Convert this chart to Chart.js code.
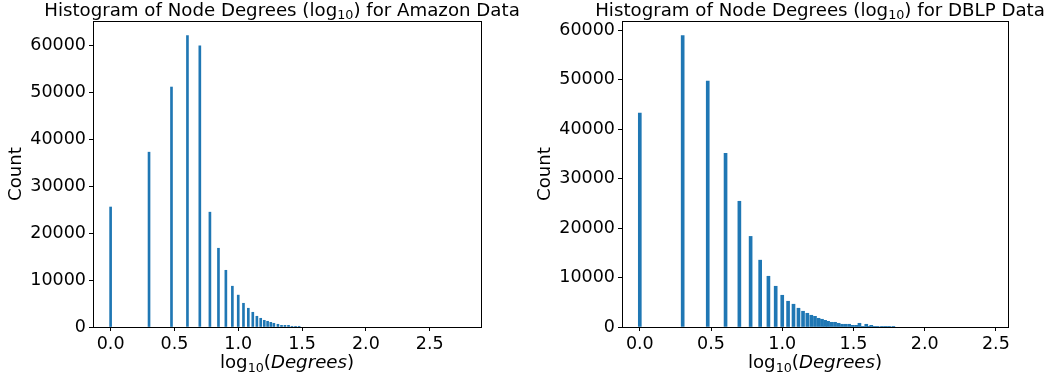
<!DOCTYPE html>
<html lang="en">
<head>
    <meta charset="UTF-8">
    <title>Histogram of Node Degrees (log10)</title>
    <script src="https://cdn.jsdelivr.net/npm/chart.js@4.4.0/dist/chart.umd.min.js"></script>
    <style>
        body {
            margin: 0;
            background: #fff;
            width: 1053px;
            height: 381px;
            overflow: hidden;
        }
        .panel {
            position: absolute;
            top: 0;
            height: 381px;
        }
    </style>
</head>
<body>
    <div class="panel" style="left:0;width:527px"><canvas id="amazonChart"></canvas></div>
    <div class="panel" style="left:527px;width:526px"><canvas id="dblpChart"></canvas></div>

    <script>
        // log10(degree) bin positions and counts
        const amazonX = [0, 0.301, 0.477, 0.602, 0.699, 0.778, 0.845, 0.903, 0.954, 1.000,
            1.041, 1.079, 1.114, 1.146, 1.176, 1.204, 1.230, 1.255, 1.279, 1.311,
            1.339, 1.366, 1.394, 1.421, 1.449, 1.477];
        const amazonCount = [25600, 37300, 51200, 62180, 59980, 24500, 16800, 12100, 8700, 6800,
            5060, 4000, 3140, 2290, 1860, 1430, 1220, 1000, 790, 580,
            360, 360, 360, 150, 150, 150];

        const dblpX = [0, 0.301, 0.477, 0.602, 0.699, 0.778, 0.845, 0.903, 0.954, 1.000,
            1.041, 1.079, 1.114, 1.146, 1.176, 1.204, 1.230, 1.255, 1.279, 1.301,
            1.322, 1.347, 1.371, 1.396, 1.42, 1.445, 1.47, 1.495, 1.519, 1.542,
            1.566, 1.59, 1.607, 1.625, 1.646, 1.67, 1.70, 1.725, 1.75, 1.78];
        const dblpCount = [43200, 58850, 49700, 35100, 25400, 18300, 13500, 10250, 8230, 6410,
            5200, 4600, 3790, 3180, 2770, 2370, 2160, 1760, 1560, 1350,
            1150, 950, 950, 750, 550, 550, 550, 340, 340, 750,
            140, 550, 140, 340, 140, 140, 140, 140, 140, 140];

        const xTicks = [0, 0.5, 1.0, 1.5, 2.0, 2.5];
        const yTicks = [0, 10000, 20000, 30000, 40000, 50000, 60000];

        const FONT = "'DejaVu Sans', sans-serif";
        const SIZE = 17.5;
        const LABEL_SIZE = 18.2;

        // draws text made of pieces, some of them subscripts or italic, centred on cx
        function drawRich(ctx, parts, cx, baseline, size) {
            const fontOf = p => (p.italic ? 'italic ' : '') + (p.sub ? size * 0.7 : size) + 'px ' + FONT;
            let total = 0;
            const widths = parts.map(p => {
                ctx.font = fontOf(p);
                const w = ctx.measureText(p.t).width;
                total += w;
                return w;
            });
            let x = cx - total / 2;
            ctx.fillStyle = '#000';
            ctx.textAlign = 'left';
            ctx.textBaseline = 'alphabetic';
            parts.forEach((p, i) => {
                ctx.font = fontOf(p);
                ctx.fillText(p.t, x, baseline + (p.sub ? size * 0.2 : 0));
                x += widths[i];
            });
        }

        const decor = {
            id: 'decor',
            afterDraw(chart, args, opts) {
                const {ctx, chartArea: a} = chart;
                ctx.save();
                ctx.strokeStyle = '#000';
                ctx.lineWidth = 1;
                ctx.strokeRect(Math.round(a.left) + 0.5, Math.round(a.top) + 0.5,
                    Math.round(a.right - a.left), Math.round(a.bottom - a.top));
                const cx = (a.left + a.right) / 2;
                drawRich(ctx, opts.title, cx + opts.titleShift, 15.5, LABEL_SIZE);
                drawRich(ctx, opts.xlabel, cx, 368, LABEL_SIZE);
                ctx.restore();
            }
        };

        function makeChart(id, xs, counts, cfg) {
            const ctx = document.getElementById(id).getContext('2d');
            return new Chart(ctx, {
                type: 'bar',
                data: {
                    datasets: [{
                        data: xs.map((x, i) => ({x: x, y: counts[i]})),
                        backgroundColor: '#1f77b4',
                        borderWidth: 0,
                        barThickness: cfg.bar,
                        grouped: false
                    }]
                },
                options: {
                    responsive: true,
                    maintainAspectRatio: false,
                    animation: false,
                    layout: {padding: {left: 0, right: cfg.padRight, top: 21, bottom: 0}},
                    plugins: {
                        legend: {display: false},
                        tooltip: {enabled: false},
                        decor: {
                            title: [{t: 'Histogram of Node Degrees (log'}, {t: '10', sub: true}, {t: ') for ' + cfg.name + ' Data'}],
                            xlabel: [{t: 'log'}, {t: '10', sub: true}, {t: '('}, {t: 'Degrees', italic: true}, {t: ')'}],
                            titleShift: cfg.titleShift
                        }
                    },
                    scales: {
                        x: {
                            type: 'linear',
                            min: cfg.xmin,
                            max: cfg.xmax,
                            offset: false,
                            afterBuildTicks: s => { s.ticks = xTicks.map(v => ({value: v})); },
                            afterFit: s => { s.height = 54; },
                            ticks: {
                                color: '#000',
                                padding: 3,
                                maxRotation: 0,
                                font: {family: FONT, size: SIZE},
                                callback: v => v.toFixed(1)
                            },
                            grid: {offset: false, drawOnChartArea: false, drawTicks: true, tickLength: 4, color: '#000'},
                            border: {display: true, color: '#000'}
                        },
                        y: {
                            min: 0,
                            max: cfg.ymax,
                            afterBuildTicks: s => { s.ticks = yTicks.map(v => ({value: v})); },
                            afterFit: s => { s.width = cfg.yWidth; },
                            ticks: {
                                color: '#000',
                                padding: 3,
                                font: {family: FONT, size: SIZE},
                                callback: v => String(v)
                            },
                            grid: {drawOnChartArea: false, drawTicks: true, tickLength: 4, color: '#000'},
                            border: {display: true, color: '#000'},
                            title: {
                                display: true,
                                text: 'Count',
                                color: '#000',
                                font: {family: FONT, size: LABEL_SIZE},
                                padding: {top: cfg.titlePad, bottom: 0}
                            }
                        }
                    }
                },
                plugins: [decor]
            });
        }

        makeChart('amazonChart', amazonX, amazonCount, {
            name: 'Amazon', bar: 2, xmin: -0.138, xmax: 2.902, ymax: 65290,
            yWidth: 93, padRight: 46, titlePad: 5, titleShift: -5
        });
        makeChart('dblpChart', dblpX, dblpCount, {
            name: 'DBLP', bar: 3, xmin: -0.125, xmax: 2.585, ymax: 61820,
            yWidth: 95, padRight: 45, titlePad: 7, titleShift: 5
        });
    </script>
</body>
</html>
